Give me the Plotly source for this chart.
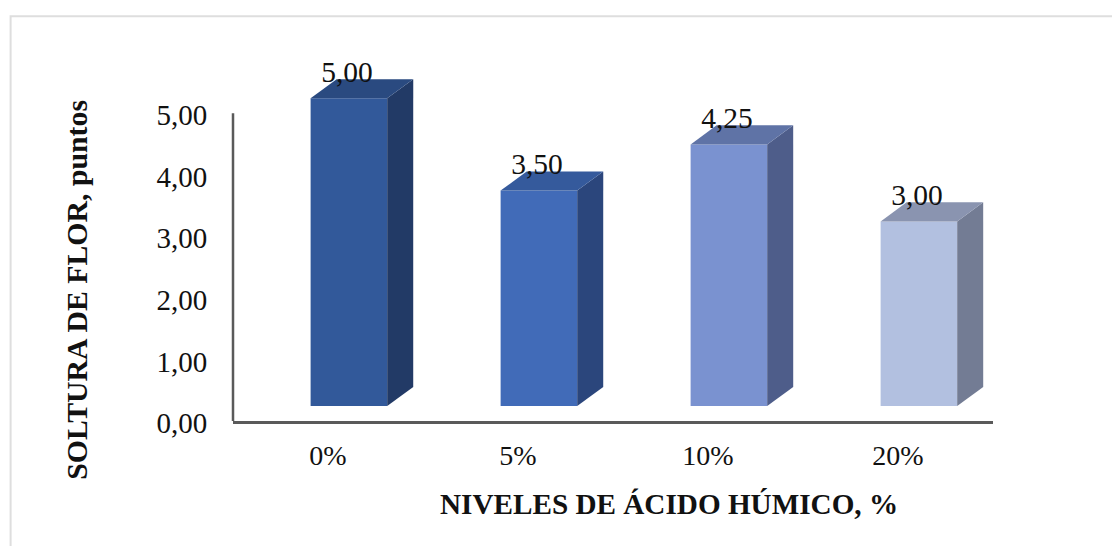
import plotly.graph_objects as go

categories = ["0%", "5%", "10%", "20%"]
values = [5.00, 3.50, 4.25, 3.00]
y_ticks = [0, 1, 2, 3, 4, 5]
front_colors = ["#32599A", "#416BB8", "#7A92D0", "#B2C0E0"]
side_colors = ["#223A66", "#2B467C", "#4E5D8A", "#737C94"]
top_colors = ["#2A4A80", "#355A9C", "#5F73A6", "#8A94B0"]

W, H = 1112, 546
Y_MAX = 5.8       # room above 5 for the 3-D top face and its label
L, R, B = 233.3, 119, 125
T = 421 - Y_MAX * 61.6
FLOOR = 0.243     # bars float above the axis, as in the 3-D original
BAR_W = 0.403
SHIFT = 0.11
DX = 0.137        # depth, in category units
DY = 0.31         # depth, in value units
FONT = "Liberation Serif"

fig = go.Figure()
xs = list(range(len(categories)))

for i, v in zip(xs, values):
    x0 = i + SHIFT - BAR_W / 2
    x1 = i + SHIFT + BAR_W / 2
    top = v + FLOOR
    fig.add_trace(go.Scatter(
        x=[x1, x1 + DX, x1 + DX, x1, x1], y=[FLOOR, FLOOR + DY, top + DY, top, FLOOR],
        mode="lines", fill="toself", fillcolor=side_colors[i],
        line=dict(width=0), hoverinfo="skip", showlegend=False))
    fig.add_trace(go.Scatter(
        x=[x0, x1, x1 + DX, x0 + DX, x0], y=[top, top, top + DY, top + DY, top],
        mode="lines", fill="toself", fillcolor=top_colors[i],
        line=dict(width=0), hoverinfo="skip", showlegend=False))

fig.add_trace(go.Bar(
    x=[i + SHIFT for i in xs], y=values, base=FLOOR, width=BAR_W,
    marker=dict(color=front_colors, line=dict(width=0)), showlegend=False))

fig.add_trace(go.Scatter(
    x=[i + SHIFT - 0.01 for i in xs], y=[v + FLOOR + 0.15 for v in values],
    mode="text", text=[f"{v:.2f}".replace(".", ",") for v in values],
    textposition="top center", textfont=dict(family=FONT, size=29.5, color="#111111"),
    cliponaxis=False, showlegend=False))

fig.update_layout(
    width=W, height=H, margin=dict(l=L, r=R, t=T, b=B, pad=0),
    paper_bgcolor="white", plot_bgcolor="white", separators=", ",
    font=dict(family=FONT, color="#111111"), showlegend=False,
    xaxis=dict(range=[-0.5, 3.5], tickmode="array", tickvals=xs, ticktext=categories,
               showgrid=False, zeroline=False, showline=True, linecolor="#5A5A5A", linewidth=2.5,
               ticks="", ticklabelstandoff=8,
               tickfont=dict(family=FONT, size=28, color="#111111")),
    yaxis=dict(range=[0, Y_MAX], tickmode="array", tickvals=y_ticks, tickformat=".2f",
               showgrid=False, zeroline=False, showline=False,
               ticks="outside", ticklen=1, tickcolor="rgba(0,0,0,0)", ticklabelstandoff=18, ticklabelshift=2,
               tickfont=dict(family=FONT, size=29, color="#111111")),
    annotations=[
        dict(text="<b>NIVELES DE ÁCIDO HÚMICO, %</b>", xref="paper", yref="paper",
             x=(669.5 - L) / (W - L - R), y=(H - B - 504) / (H - T - B), showarrow=False,
             xanchor="center", yanchor="middle", font=dict(family=FONT, size=29.2, color="#111111")),
        dict(text="<b>SOLTURA DE FLOR, puntos</b>", xref="paper", yref="paper", textangle=-90,
             x=(76 - L) / (W - L - R), y=(H - B - 290) / (H - T - B), showarrow=False,
             xanchor="center", yanchor="middle", font=dict(family=FONT, size=29.8, color="#111111")),
    ],
    shapes=[
        dict(type="line", xref="paper", yref="y", x0=0, x1=0, y0=0, y1=y_ticks[-1],
             line=dict(color="#5A5A5A", width=2.5)),
        dict(type="path", xref="paper", yref="paper",
             path=f"M {(11 - L) / (W - L - R)} {(H - B - 546) / (H - T - B)} "
                  f"L {(11 - L) / (W - L - R)} {(H - B - 16) / (H - T - B)} "
                  f"L {(1112 - L) / (W - L - R)} {(H - B - 16) / (H - T - B)}",
             line=dict(color="#DEDEDE", width=2)),
    ],
)

fig.write_html("out.html", config=dict(displayModeBar=False),
               post_script="document.body.style.margin='0';document.body.style.overflow='hidden';")
